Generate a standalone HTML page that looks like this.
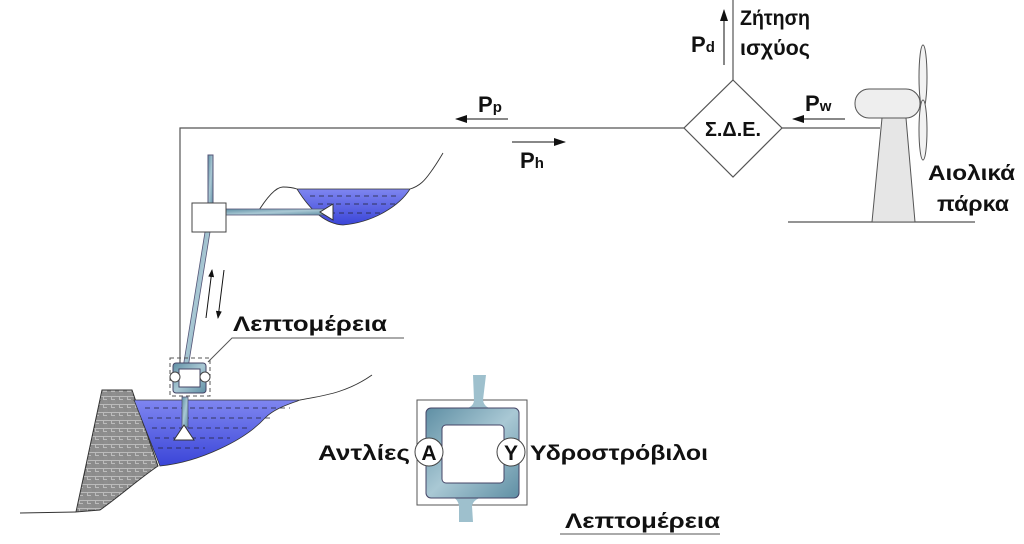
<!DOCTYPE html>
<html><head><meta charset="utf-8"><style>
html,body{margin:0;padding:0;background:#fff;width:1024px;height:544px;overflow:hidden}
text{font-family:"Liberation Sans","DejaVu Sans",sans-serif;font-weight:bold;fill:#111}
</style></head><body>
<svg width="1024" height="544" viewBox="0 0 1024 544" xmlns="http://www.w3.org/2000/svg">
<defs>
<pattern id="hatch" width="8" height="8" patternUnits="userSpaceOnUse">
<rect width="8" height="8" fill="#bbb"/>
<path d="M0 1h4M0 3h4M5 0v4M7 0v4M4 5v3M6 5v3M0 6h3" stroke="#444" stroke-width="0.8"/>
</pattern>
<linearGradient id="water" x1="0" y1="0" x2="0" y2="1">
<stop offset="0" stop-color="#7f86f0"/><stop offset="1" stop-color="#3a45d8"/>
</linearGradient>
<linearGradient id="pipe" x1="0" y1="0" x2="1" y2="1">
<stop offset="0" stop-color="#5f8fa4"/><stop offset="0.5" stop-color="#a9c8d4"/><stop offset="1" stop-color="#5f8fa4"/>
</linearGradient>
<marker id="ah" markerWidth="8" markerHeight="6" refX="7" refY="3" orient="auto" markerUnits="userSpaceOnUse">
<path d="M0 0L8 3L0 6z" fill="#111"/></marker>
<marker id="ahs" markerWidth="12" markerHeight="8" refX="11" refY="4" orient="auto" markerUnits="userSpaceOnUse">
<path d="M0 0L12 4L0 8z" fill="#111"/></marker>
</defs>
<g stroke="#555" stroke-width="1.2" fill="none">
<path d="M180 375V128H684"/>
<path d="M782 128H880"/>
<path d="M733 80V0"/>
<path d="M733 80L782 128L733 177L684 128Z" fill="#fff"/>
</g>
<text x="705" y="136" font-size="20" textLength="56" lengthAdjust="spacingAndGlyphs">Σ.Δ.Ε.</text>
<line x1="724" y1="65" x2="724" y2="10" stroke="#111" stroke-width="1" marker-end="url(#ahs)"/>
<text x="691" y="52" font-size="22">P<tspan font-size="15">d</tspan></text>
<text x="740" y="25" font-size="21" textLength="70" lengthAdjust="spacingAndGlyphs">Ζήτηση</text>
<text x="740" y="55" font-size="21" textLength="70" lengthAdjust="spacingAndGlyphs">ισχύος</text>
<line x1="845" y1="119" x2="793" y2="119" stroke="#111" stroke-width="1" marker-end="url(#ahs)"/>
<text x="805" y="111" font-size="22">P<tspan font-size="15">w</tspan></text>
<line x1="508" y1="119" x2="456" y2="119" stroke="#111" stroke-width="1" marker-end="url(#ahs)"/>
<text x="478" y="112" font-size="22">P<tspan font-size="15">p</tspan></text>
<line x1="512" y1="142" x2="565" y2="142" stroke="#111" stroke-width="1" marker-end="url(#ahs)"/>
<text x="520" y="168" font-size="22">P<tspan font-size="15">h</tspan></text>
<!-- turbine -->
<line x1="788" y1="222" x2="975" y2="222" stroke="#555" stroke-width="1.2"/>
<path d="M882 118L906 118L915 222L872 222Z" fill="#e6e6e6" stroke="#555"/>
<rect x="855" y="89" width="65" height="29" rx="14" fill="#eee" stroke="#555"/>
<ellipse cx="923" cy="77" rx="4" ry="32" fill="#f2f2f2" stroke="#555"/>
<ellipse cx="923" cy="130" rx="4" ry="30" fill="#f2f2f2" stroke="#555"/>
<text x="928" y="180" font-size="21" textLength="87" lengthAdjust="spacingAndGlyphs">Αιολικά</text>
<text x="937" y="211" font-size="21" textLength="72" lengthAdjust="spacingAndGlyphs">πάρκα</text>
<!-- upper reservoir -->
<path d="M297 189H410C400 205 375 222 343 225C325 224 310 210 297 189Z" fill="url(#water)" stroke="#333" stroke-width="0.8"/>
<path d="M256 215C265 200 275 187 283 187C290 187 294 188 297 189M410 189C420 186 425 180 430 173C436 165 440 158 443 153" fill="none" stroke="#333" stroke-width="0.9"/>
<g stroke="#223" stroke-width="0.8" stroke-dasharray="5 4"><path d="M310 196H400M318 204H395M330 213H380"/></g>
<!-- pipes -->
<rect x="208" y="155" width="5" height="52" fill="url(#pipe)" stroke="#557"/>
<rect x="226" y="209" width="104" height="6" fill="url(#pipe)" stroke="#557" stroke-width="0.8"/>
<path d="M205 232L210 232L188 368L183 368Z" fill="url(#pipe)" stroke="#557" stroke-width="0.8"/>
<rect x="192" y="203" width="34" height="29" fill="#fff" stroke="#444"/>
<path d="M333 204L333 220L320 212Z" fill="#fff" stroke="#333"/>
<line x1="206" y1="318" x2="212" y2="270" stroke="#111" stroke-width="1" marker-end="url(#ah)"/>
<line x1="224" y1="270" x2="218" y2="318" stroke="#111" stroke-width="1" marker-end="url(#ah)"/>
<text x="233" y="331" font-size="21" textLength="154" lengthAdjust="spacingAndGlyphs">Λεπτομέρεια</text>
<path d="M208 362L232 338H404" fill="none" stroke="#555"/>
<!-- lower reservoir -->
<path d="M102 390L132 390L158 466C140 478 120 496 100 510L76 512Z" fill="url(#hatch)" stroke="#333"/>
<path d="M134 400H300C290 404 275 408 265 418C245 440 200 462 160 466Z" fill="url(#water)" stroke="#333" stroke-width="0.8"/>
<path d="M20 513L76 512M300 400C320 396 345 394 372 375" fill="none" stroke="#333" stroke-width="0.9"/>
<g stroke="#223" stroke-width="0.8" stroke-dasharray="5 4"><path d="M145 408H290M148 418H270M152 428H250M155 438H230M158 448H205"/></g>
<rect x="182" y="397" width="6" height="30" fill="url(#pipe)" stroke="#557" stroke-width="0.8"/>
<path d="M184 425L194 440L174 440Z" fill="#fff" stroke="#333"/>
<rect x="170" y="358" width="40" height="38" fill="none" stroke="#555" stroke-dasharray="4 3"/>
<rect x="173" y="363" width="33" height="30" rx="3" fill="url(#pipe)" stroke="#446"/>
<rect x="179" y="369" width="21" height="18" fill="#fff" stroke="#446"/>
<circle cx="175" cy="377" r="5" fill="#fff" stroke="#444"/>
<circle cx="205" cy="377" r="5" fill="#fff" stroke="#444"/>
<!-- big detail -->
<rect x="417" y="400" width="110" height="105" fill="#fff" stroke="#555"/>
<path d="M473 375L486 375L483 400Q484 408 494 409L464 409Q474 407 474 400Z" fill="#9ec0cd"/>
<path d="M466 497L482 497Q473 500 472 506L473 522L459 522L459 506Q458 499 452 497Z" fill="#9ec0cd"/>
<rect x="426" y="408" width="93" height="90" rx="5" fill="url(#pipe)" stroke="#446"/>
<rect x="442" y="425" width="62" height="58" rx="4" fill="#fff" stroke="#446"/>
<circle cx="429" cy="452" r="14" fill="#fff" stroke="#444"/>
<circle cx="511" cy="452" r="14" fill="#fff" stroke="#444"/>
<text x="429" y="460" font-size="21" text-anchor="middle">A</text>
<text x="511" y="460" font-size="21" text-anchor="middle">Y</text>
<text x="318" y="460" font-size="21" textLength="92" lengthAdjust="spacingAndGlyphs">Αντλίες</text>
<text x="530" y="460" font-size="21" textLength="178" lengthAdjust="spacingAndGlyphs">Υδροστρόβιλοι</text>
<text x="565" y="528" font-size="21" textLength="155" lengthAdjust="spacingAndGlyphs">Λεπτομέρεια</text>
<line x1="560" y1="534" x2="720" y2="534" stroke="#555"/>
</svg>
</body></html>
